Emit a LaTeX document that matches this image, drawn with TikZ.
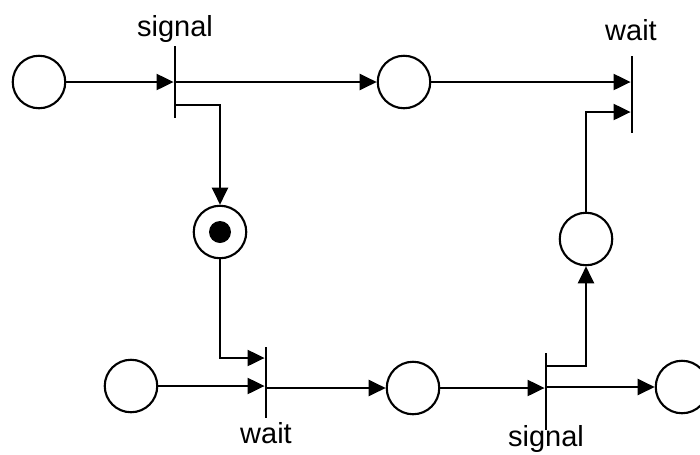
\documentclass[tikz,border=0pt]{standalone}
\usepackage{fontspec}
\setmainfont{Liberation Sans}
\usetikzlibrary{arrows.meta}
\tikzset{
	place/.style={circle, draw, line width=1.2pt, minimum size=1.05cm, inner sep=0pt},
	trans/.style={rectangle, fill=black, inner sep=0pt, minimum width=1.2pt, minimum height=#1},
	token/.style={circle, fill=black, inner sep=0pt, minimum size=0.44cm},
	arc/.style={line width=1.2pt, -{Triangle[length=0.34cm, width=0.32cm]}},
	lbl/.style={font=\fontsize{16.5}{19}\selectfont, inner sep=0pt}
}
\begin{document}
\begin{tikzpicture}[x=0.02cm, y=-0.02cm]
		\useasboundingbox (0,0) rectangle (700,454);
		%places
		\node[place] (p1) at (39,82){};
		\node[place] (p2) at (404,82){};
		\node[place] (p3) at (220,232){};
		\node[token] (tok) at (p3){};
		\node[place] (p4) at (586,239){};
		\node[place] (p5) at (131,386){};
		\node[place] (p6) at (413,388){};
		\node[place] (p7) at (682,387){};
		
		%transitions
		\node[trans=1.44cm] (t1) at (175,82){};
		\node[trans=1.54cm] (t2) at (632,94.5){};
		\node[trans=1.42cm] (t3) at (266,382.5){};
		\node[trans=1.54cm] (t4) at (546,391.5){};
		
		%labels
		\node[lbl, anchor=base] (l1) at (175,36){signal};
		\node[lbl, anchor=base] (l2) at (631,40){wait};
		\node[lbl, anchor=base] (l3) at (266,443){wait};
		\node[lbl, anchor=base] (l4) at (546,446){signal};
		
		%arcs
		\draw[arc] (p1) -- (p1 -| t1.west);
		\draw[arc] (t1.east |- p2) -- (p2);
		\draw[arc] (t1.east |- 0,105) -| (p3);
		\draw[arc] (p2) -- (p2 -| t2.west);
		\draw[arc] (p4) |- (t2.west |- 0,112);
		\draw[arc] (p3) |- (t3.west |- 0,358);
		\draw[arc] (p5) -- (p5 -| t3.west);
		\draw[arc] (t3.east |- p6) -- (p6);
		\draw[arc] (p6) -- (p6 -| t4.west);
		\draw[arc] (t4.east |- p7) -- (p7);
		\draw[arc] (t4.east |- 0,366) -| (p4);
\end{tikzpicture}
\end{document}
